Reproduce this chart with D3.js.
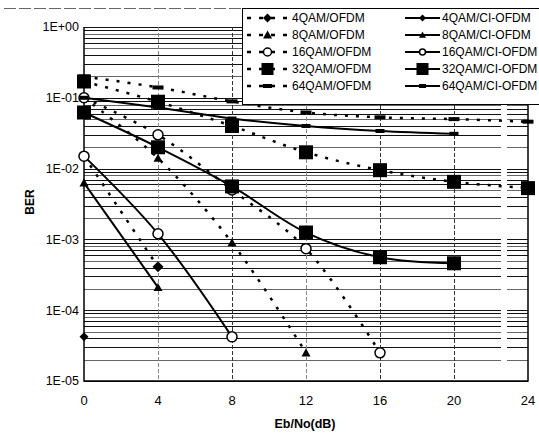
<!DOCTYPE html>
<html>
<head>
<meta charset="utf-8">
<script src="https://cdn.jsdelivr.net/npm/d3@7"></script>
<style>
  body { margin: 0; background: #fff; }
  svg { display: block; font-family: "Liberation Sans", Arial, sans-serif; }
</style>
</head>
<body>
<svg id="chart"></svg>
<script>
// ----------------------------------------- Data -----------------------------------------

var snr = [0, 4, 8, 12, 16, 20, 24];
var yTicks = [1e0, 1e-1, 1e-2, 1e-3, 1e-4, 1e-5];
var yTickLabels = ['1E+00', '1E-01', '1E-02', '1E-03', '1E-04', '1E-05'];

var qam4Ofdm  = [1.5e-2, 4.1e-4];
var qam8Ofdm  = [1.0e-1, 1.4e-2, 9.0e-4, 2.5e-5];
var qam16Ofdm = [1.0e-1, 3.0e-2, 5.0e-3, 7.4e-4, 2.5e-5];
var qam32Ofdm = [1.7e-1, 8.8e-2, 4.0e-2, 1.7e-2, 9.5e-3, 6.5e-3, 5.3e-3];
var qam64Ofdm = [2.0e-1, 1.4e-1, 8.9e-2, 6.2e-2, 5.3e-2, 5.0e-2, 4.6e-2];

var qam4Ci  = [4.2e-5];
var qam8Ci  = [6.3e-3, 2.1e-4];
var qam16Ci = [1.5e-2, 1.2e-3, 4.2e-5];
var qam32Ci = [6.2e-2, 2.0e-2, 5.6e-3, 1.25e-3, 5.6e-4, 4.6e-4];
var qam64Ci = [1.0e-1, 7.3e-2, 5.1e-2, 4.0e-2, 3.4e-2, 3.1e-2];

var seriesNames = ['4QAM/OFDM', '8QAM/OFDM', '16QAM/OFDM', '32QAM/OFDM', '64QAM/OFDM',
                   '4QAM/CI-OFDM', '8QAM/CI-OFDM', '16QAM/CI-OFDM', '32QAM/CI-OFDM', '64QAM/CI-OFDM'];

// ----------------------------------------- Setup -----------------------------------------

var width = 539;
var height = 443;

var svg = d3.select('#chart')
            .attr('width', width)
            .attr('height', height);

var xScale = d3.scaleLinear().domain([0, 24]).range([84, 528]);
var yScale = d3.scaleLog().domain([1e-5, 1]).range([381, 27]);

var series = [
    {name: seriesNames[0], values: qam4Ofdm,  marker: 'diamond',  size: 11, dashed: true},
    {name: seriesNames[1], values: qam8Ofdm,  marker: 'triangle', size: 9,  dashed: true},
    {name: seriesNames[2], values: qam16Ofdm, marker: 'circle',   size: 11, dashed: true},
    {name: seriesNames[3], values: qam32Ofdm, marker: 'square',   size: 14, dashed: true},
    {name: seriesNames[4], values: qam64Ofdm, marker: 'dash',     size: 11, dashed: true},
    {name: seriesNames[5], values: qam4Ci,    marker: 'diamond',  size: 9,  dashed: false},
    {name: seriesNames[6], values: qam8Ci,    marker: 'triangle', size: 9,  dashed: false},
    {name: seriesNames[7], values: qam16Ci,   marker: 'circle',   size: 11, dashed: false},
    {name: seriesNames[8], values: qam32Ci,   marker: 'square',   size: 14, dashed: false},
    {name: seriesNames[9], values: qam64Ci,   marker: 'dash',     size: 9,  dashed: false}
];

// ----------------------------------------- Grid -----------------------------------------

var minor = [];
for (var e = -5; e < 0; e++) {
    for (var m = 1; m < 10; m++) {
        minor.push(m * Math.pow(10, e));
    }
}
minor.push(1);

svg.append('g')
    .selectAll('line')
    .data(minor)
    .enter()
    .append('line')
        .attr('x1', xScale(0))
        .attr('x2', xScale(24))
        .attr('y1', d => Math.round(yScale(d)) + 0.5)
        .attr('y2', d => Math.round(yScale(d)) + 0.5)
        .attr('stroke', (d, i) => i % 3 === 1 ? '#666' : '#111')
        .attr('stroke-width', 1);

svg.append('g')
    .selectAll('line')
    .data([4, 8, 12, 16, 20])
    .enter()
    .append('line')
        .attr('x1', d => Math.round(xScale(d)) + 0.5)
        .attr('x2', d => Math.round(xScale(d)) + 0.5)
        .attr('y1', yScale(1))
        .attr('y2', yScale(1e-5))
        .attr('stroke', d => (d === 4 || d === 12) ? '#888' : '#333')
        .attr('stroke-dasharray', '4,2')
        .attr('stroke-width', 1);

// scan gap
svg.append('rect')
    .attr('x', 501).attr('y', 104)
    .attr('width', 6).attr('height', 276)
    .attr('fill', '#fff');

// frame
svg.append('path')
    .attr('d', 'M' + xScale(0) + ',' + yScale(1) + 'V' + yScale(1e-5) + 'H' + xScale(24) + 'V' + yScale(1))
    .attr('fill', 'none')
    .attr('stroke', '#000')
    .attr('stroke-width', 1.5);

// ----------------------------------------- Axes -----------------------------------------

svg.append('g')
    .selectAll('text')
    .data(yTicks)
    .enter()
    .append('text')
        .attr('x', 79)
        .attr('y', d => yScale(d))
        .attr('dy', '0.35em')
        .attr('text-anchor', 'end')
        .attr('font-size', 12.5)
        .text((d, i) => yTickLabels[i]);

svg.append('g')
    .selectAll('text')
    .data(snr)
    .enter()
    .append('text')
        .attr('x', d => xScale(d))
        .attr('y', 405)
        .attr('text-anchor', 'middle')
        .attr('font-size', 13)
        .text(d => d);

svg.append('text')
    .text('Eb/No(dB)')
    .attr('x', 305)
    .attr('y', 428)
    .attr('text-anchor', 'middle')
    .attr('font-size', 12.5)
    .attr('font-weight', 'bold');

svg.append('text')
    .text('BER')
    .attr('transform', 'translate(34,202) rotate(-90)')
    .attr('text-anchor', 'middle')
    .attr('font-size', 12)
    .attr('font-weight', 'bold');

// ----------------------------------------- Lines and markers -----------------------------------------

var line = d3.line()
    .x(d => xScale(d.x))
    .y(d => yScale(d.y))
    .curve(d3.curveCatmullRom.alpha(0.5));

function drawMarker(g, type, size, x, y) {
    var h = size / 2;
    if (type === 'diamond') {
        g.append('path')
            .attr('d', 'M' + x + ',' + (y - h) + 'L' + (x + h) + ',' + y + 'L' + x + ',' + (y + h) + 'L' + (x - h) + ',' + y + 'Z')
            .attr('fill', '#000');
    } else if (type === 'triangle') {
        g.append('path')
            .attr('d', 'M' + x + ',' + (y - h) + 'L' + (x + h) + ',' + (y + h * 0.8) + 'L' + (x - h) + ',' + (y + h * 0.8) + 'Z')
            .attr('fill', '#000');
    } else if (type === 'circle') {
        g.append('circle')
            .attr('cx', x).attr('cy', y).attr('r', h - 0.5)
            .attr('fill', '#fff')
            .attr('stroke', '#000')
            .attr('stroke-width', 1.5);
    } else if (type === 'square') {
        g.append('rect')
            .attr('x', x - h).attr('y', y - h)
            .attr('width', size).attr('height', size)
            .attr('fill', '#000');
    } else {
        g.append('rect')
            .attr('x', x - h).attr('y', y - 2)
            .attr('width', size).attr('height', 4)
            .attr('fill', '#000');
    }
}

series.forEach(function(s) {
    var pts = s.values.map((v, i) => ({x: snr[i], y: v}));
    svg.append('path')
        .datum(pts)
        .attr('d', line)
        .attr('fill', 'none')
        .attr('stroke', '#000')
        .attr('stroke-width', s.dashed ? 2.5 : 2)
        .attr('stroke-dasharray', s.dashed ? '3,8' : null);
});

series.forEach(function(s) {
    var g = svg.append('g');
    s.values.forEach(function(v, i) {
        drawMarker(g, s.marker, s.size, xScale(snr[i]), yScale(v));
    });
});

// ----------------------------------------- Legend -----------------------------------------

svg.append('line')
    .attr('x1', 4).attr('x2', 539)
    .attr('y1', 8.5).attr('y2', 8.5)
    .attr('stroke', '#666')
    .attr('stroke-dasharray', '12,3');

svg.append('rect')
    .attr('x', 242.5).attr('y', 8.5)
    .attr('width', 300).attr('height', 96)
    .attr('fill', '#fff')
    .attr('stroke', '#000')
    .attr('stroke-width', 1);

var legend = svg.append('g');

series.forEach(function(s, i) {
    var col = i < 5 ? 0 : 1;
    var row = i % 5;
    var y = 18 + row * 17;
    var x0 = col === 0 ? 247 : 405;
    var x1 = col === 0 ? 288 : 440;
    legend.append('line')
        .attr('x1', x0).attr('x2', x1)
        .attr('y1', y).attr('y2', y)
        .attr('stroke', '#000')
        .attr('stroke-width', s.dashed ? 2.5 : 2)
        .attr('stroke-dasharray', s.dashed ? '4,8' : null);
    var legSize = s.marker === 'square' ? 12 : (col === 1 ? 7 : 9);
    drawMarker(legend, s.marker, legSize, (x0 + x1) / 2, y);
    legend.append('text')
        .attr('x', col === 0 ? 292 : 442)
        .attr('y', y)
        .attr('dy', '0.35em')
        .attr('font-size', 12)
        .text(s.name);
});
</script>
</body>
</html>
